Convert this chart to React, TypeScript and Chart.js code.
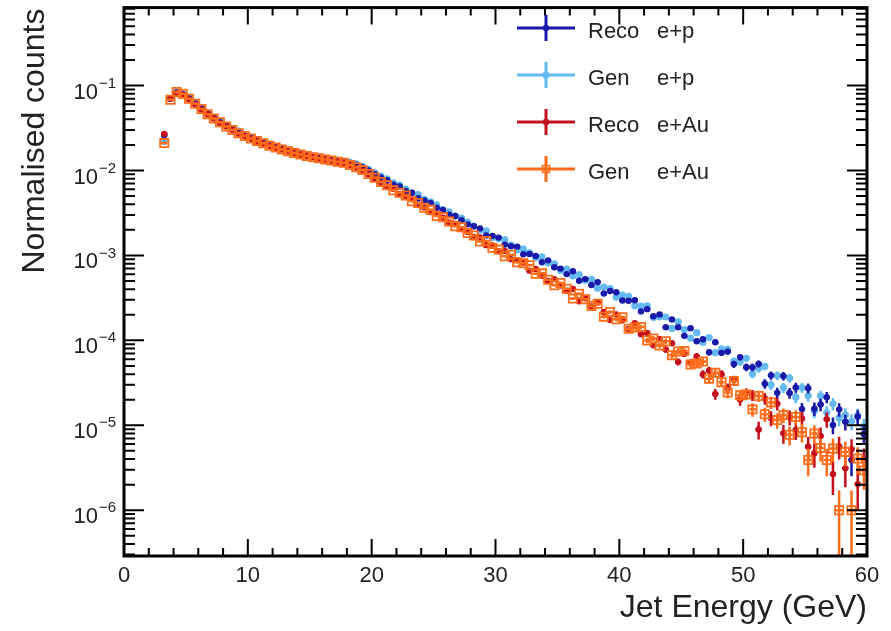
import React, { useEffect, useRef } from "react";
import { Chart, registerables } from "chart.js";

Chart.register(...registerables);

// ---- Binning (0.5 GeV bins from 3 to 60 GeV) ----
const BIN_LOW = 3.0;
const BIN_WIDTH = 0.5;
const N_BINS = 114;
const BIN_CENTERS: number[] = Array.from({ length: N_BINS }, (_, i) => BIN_LOW + BIN_WIDTH * (i + 0.5));

// ---- Axis ----
const X_MIN = 0;
const X_MAX = 60;
const X_TICKS = [0, 10, 20, 30, 40, 50, 60];
const X_MINOR_STEP = 2;
const Y_MIN = 2.89e-7;
const Y_MAX = 0.827;
const Y_EXPONENTS = [-6, -5, -4, -3, -2, -1];
const X_TITLE = "Jet Energy (GeV)";
const Y_TITLE = "Normalised counts";

// effective number of entries (Poisson errors)
const N_EFF = 2.0e6;

// ---- Series values ----
const RECO_EP = [
  0.026, 0.071, 0.083, 0.079, 0.071, 0.062, 0.054, 0.047, 0.042, 0.037,
  0.034, 0.031, 0.028, 0.026, 0.0243, 0.0227, 0.0213, 0.0201, 0.019, 0.0181,
  0.0172, 0.0165, 0.0158, 0.0152, 0.0147, 0.0142, 0.0138, 0.0134, 0.013, 0.0127,
  0.0123, 0.0117, 0.0109, 0.01, 0.0091, 0.0083, 0.00768, 0.00681, 0.00648, 0.00575,
  0.00547, 0.0047, 0.00444, 0.00414, 0.00364, 0.00342, 0.00301, 0.00291, 0.00259, 0.00232,
  0.0022, 0.00208, 0.00172, 0.0017, 0.00162, 0.00134, 0.00128, 0.00127, 0.00103, 0.00104,
  9.84e-4, 8.31e-4, 8.74e-4, 7.26e-4, 6.99e-4, 6.02e-4, 6.51e-4, 5.03e-4, 5.26e-4, 4.49e-4,
  4.85e-4, 3.56e-4, 3.81e-4, 3.69e-4, 2.94e-4, 2.92e-4, 2.96e-4, 2.19e-4, 2.33e-4, 1.92e-4,
  2.02e-4, 1.43e-4, 1.76e-4, 1.43e-4, 1.13e-4, 1.39e-4, 9.75e-5, 1.03e-4, 7.24e-5, 9.5e-5,
  7.12e-5, 7.37e-5, 5.25e-5, 6.35e-5, 4.83e-5, 4.82e-5, 5.29e-5, 3.08e-5, 3.87e-5, 2.41e-5,
  3.8e-5, 2.4e-5, 2.79e-5, 1.55e-5, 2.73e-5, 1.57e-5, 1.76e-5, 2.14e-5, 1.01e-5, 1.54e-5,
  1.1e-5, 3.9e-6, 1.26e-5, 7.9e-6,
];

const GEN_EP = [
  0.022, 0.07, 0.084, 0.08, 0.072, 0.062, 0.055, 0.048, 0.042, 0.038,
  0.034, 0.031, 0.029, 0.026, 0.0246, 0.0229, 0.0215, 0.0203, 0.0192, 0.0183,
  0.0174, 0.0167, 0.016, 0.0154, 0.0149, 0.0144, 0.014, 0.0136, 0.0132, 0.0129,
  0.0125, 0.012, 0.0112, 0.0103, 0.0094, 0.0086, 0.00798, 0.00716, 0.00673, 0.00604,
  0.00542, 0.00519, 0.00457, 0.00426, 0.00393, 0.00346, 0.00326, 0.00291, 0.00275, 0.00246,
  0.00222, 0.00198, 0.00195, 0.00162, 0.00157, 0.00153, 0.00132, 0.00116, 0.00119, 0.00107,
  9.37e-4, 9.63e-4, 8.17e-4, 7.93e-4, 6.64e-4, 6.91e-4, 5.74e-4, 5.96e-4, 5.11e-4, 5.24e-4,
  4.11e-4, 4.24e-4, 4.07e-4, 3.21e-4, 3.41e-4, 3.3e-4, 2.56e-4, 2.53e-4, 2.55e-4, 1.86e-4,
  1.89e-4, 1.88e-4, 1.38e-4, 1.65e-4, 1.34e-4, 1.06e-4, 1.23e-4, 9.49e-5, 1.08e-4, 7.16e-5,
  7.93e-5, 7.84e-5, 5.68e-5, 5.57e-5, 6.15e-5, 4.03e-5, 4.65e-5, 4.93e-5, 2.99e-5, 3.85e-5,
  2.77e-5, 3.6e-5, 2.14e-5, 2.78e-5, 2.22e-5, 1.48e-5, 2.22e-5, 1.41e-5, 1.79e-5, 1.22e-5,
  1.33e-5, 1.11e-5, 1.31e-5, 9.7e-6,
];

const RECO_EAU = [
  0.027, 0.07, 0.082, 0.078, 0.069, 0.06, 0.052, 0.046, 0.041, 0.036,
  0.033, 0.03, 0.027, 0.0253, 0.0236, 0.0221, 0.0207, 0.0195, 0.0185, 0.0176,
  0.0167, 0.016, 0.0153, 0.0147, 0.0143, 0.0138, 0.0134, 0.013, 0.0126, 0.0122,
  0.0115, 0.0108, 0.01, 0.009, 0.0081, 0.0072, 0.00651, 0.00609, 0.00526, 0.00497,
  0.0046, 0.00398, 0.00368, 0.00324, 0.00309, 0.00278, 0.00245, 0.00234, 0.00204, 0.00189,
  0.00165, 0.00163, 0.00132, 0.00131, 0.00112, 0.00113, 9.03e-4, 8.8e-4, 8.22e-4, 6.61e-4,
  6.91e-4, 5.74e-4, 5.0e-4, 5.26e-4, 4.43e-4, 3.82e-4, 4.04e-4, 2.89e-4, 3.13e-4, 2.51e-4,
  2.79e-4, 2.16e-4, 1.74e-4, 2.02e-4, 1.72e-4, 1.36e-4, 1.59e-4, 1.18e-4, 1.22e-4, 8.76e-5,
  1.04e-4, 7.79e-5, 9.23e-5, 5.58e-5, 6.97e-5, 5.46e-5, 6.47e-5, 3.99e-5, 4.42e-5, 2.34e-5,
  4.0e-5, 2.74e-5, 3.41e-5, 2.01e-5, 2.38e-5, 2.27e-5, 8.9e-6, 2.07e-5, 1.22e-5, 1.79e-5,
  8.05e-6, 1.24e-5, 8.79e-6, 1.2e-5, 5.59e-6, 4.7e-6, 7.5e-6, 1.18e-5, 2.66e-6, 5.64e-6,
  3.11e-6, 5.24e-6, 2.03e-6, 3.93e-6,
];

const GEN_EAU = [
  0.021, 0.068, 0.084, 0.08, 0.07, 0.061, 0.053, 0.046, 0.041, 0.037,
  0.033, 0.03, 0.0275, 0.0255, 0.0238, 0.0223, 0.0209, 0.0196, 0.0186, 0.0177,
  0.0168, 0.0161, 0.0154, 0.0148, 0.0143, 0.0139, 0.0135, 0.0131, 0.0127, 0.0123,
  0.0116, 0.0109, 0.0101, 0.0091, 0.0082, 0.0073, 0.00671, 0.00585, 0.00547, 0.00507,
  0.00434, 0.00414, 0.00364, 0.00344, 0.00291, 0.00281, 0.0025, 0.0022, 0.00214, 0.00183,
  0.00172, 0.00146, 0.00148, 0.00123, 0.00117, 9.77e-4, 1.02e-3, 8.28e-4, 8.06e-4, 7.68e-4,
  6.07e-4, 6.15e-4, 5.16e-4, 4.44e-4, 4.74e-4, 4.06e-4, 3.1e-4, 3.54e-4, 3.04e-4, 2.54e-4,
  2.7e-4, 1.9e-4, 2.16e-4, 1.77e-4, 1.87e-4, 1.37e-4, 1.42e-4, 1.44e-4, 9.94e-5, 1.05e-4,
  8.68e-5, 9.74e-5, 6.69e-5, 7.4e-5, 7.48e-5, 5.18e-5, 5.32e-5, 5.63e-5, 3.54e-5, 4.16e-5,
  3.22e-5, 2.43e-5, 3.33e-5, 2.25e-5, 2.31e-5, 1.54e-5, 2.21e-5, 1.35e-5, 1.86e-5, 1.15e-5,
  1.32e-5, 7.73e-6, 1.25e-5, 8.3e-6, 3.9e-6, 8.02e-6, 5.4e-6, 3.9e-6, 5.31e-6, 1.0e-6,
  4.86e-6, 1.0e-6, 4.07e-6, 2.95e-6,
];

const LEGEND_NAMES = ["Reco", "Gen", "Reco", "Gen"];
const LEGEND_BEAMS = ["e+p", "e+p", "e+Au", "e+Au"];

type Series = {
  values: number[];
  color: string;
  marker: "circle" | "rect";
  radius: number;
  filled: boolean;
  order: number;
};

const SERIES: Series[] = [
  { values: RECO_EP, color: "rgb(26,26,170)", marker: "circle", radius: 3.2, filled: true, order: 3 },
  { values: GEN_EP, color: "rgb(100,185,240)", marker: "circle", radius: 3.6, filled: true, order: 4 },
  { values: RECO_EAU, color: "rgb(195,15,30)", marker: "circle", radius: 3.2, filled: true, order: 2 },
  { values: GEN_EAU, color: "rgb(255,108,25)", marker: "rect", radius: 5.8, filled: false, order: 1 },
];

const FONT = '"Liberation Sans", Arial, Helvetica, sans-serif';
const TEXT_COLOR = "#222222";

const errorBarPlugin = {
  id: "errorBars",
  beforeDatasetDraw(chart: any, args: any) {
    const s = SERIES[args.index];
    if (!s) return;
    const { ctx, chartArea: a } = chart;
    const x = chart.scales.x;
    const y = chart.scales.y;
    ctx.save();
    ctx.beginPath();
    ctx.rect(a.left, a.top, a.right - a.left, a.bottom - a.top);
    ctx.clip();
    ctx.strokeStyle = s.color;
    ctx.lineWidth = 2.5;
    ctx.beginPath();
    BIN_CENTERS.forEach((c, i) => {
      const v = s.values[i];
      if (v == null || v <= 0) return;
      const err = Math.sqrt(v / N_EFF);
      const px = x.getPixelForValue(c);
      const py = y.getPixelForValue(v);
      const pyHi = y.getPixelForValue(v + err);
      const lo = v - err;
      const pyLo = lo > 0 ? y.getPixelForValue(lo) : a.bottom + 10;
      ctx.moveTo(px, pyHi);
      ctx.lineTo(px, pyLo);
      ctx.moveTo(x.getPixelForValue(c - BIN_WIDTH / 2), py);
      ctx.lineTo(x.getPixelForValue(c + BIN_WIDTH / 2), py);
    });
    ctx.stroke();
    ctx.restore();
  },
};

const axesPlugin = {
  id: "rootAxes",
  afterDraw(chart: any) {
    const { ctx, chartArea: a } = chart;
    const x = chart.scales.x;
    const y = chart.scales.y;
    ctx.save();
    ctx.strokeStyle = "#000";
    ctx.lineCap = "butt";

    // x ticks (bottom & top)
    ctx.lineWidth = 2;
    ctx.beginPath();
    for (let v = X_MIN; v <= X_MAX + 1e-9; v += X_MINOR_STEP) {
      const px = x.getPixelForValue(v);
      const major = X_TICKS.includes(Math.round(v));
      const len = major ? 17 : 8;
      ctx.moveTo(px, a.bottom);
      ctx.lineTo(px, a.bottom - len);
      ctx.moveTo(px, a.top);
      ctx.lineTo(px, a.top + len);
    }
    // y ticks (left & right)
    for (let e = -7; e <= 0; e++) {
      for (let k = 1; k <= 9; k++) {
        const v = k * Math.pow(10, e);
        if (v < Y_MIN || v > Y_MAX) continue;
        const py = y.getPixelForValue(v);
        const len = k === 1 ? 20 : 11;
        ctx.moveTo(a.left, py);
        ctx.lineTo(a.left + len, py);
        ctx.moveTo(a.right, py);
        ctx.lineTo(a.right - len, py);
      }
    }
    ctx.stroke();

    // frame
    ctx.lineWidth = 3;
    ctx.strokeRect(a.left, a.top, a.right - a.left, a.bottom - a.top);

    // x labels
    ctx.fillStyle = TEXT_COLOR;
    ctx.font = `22px ${FONT}`;
    ctx.textAlign = "center";
    ctx.textBaseline = "alphabetic";
    X_TICKS.forEach((t) => {
      ctx.fillText(String(t), x.getPixelForValue(t), a.bottom + 26);
    });

    // y labels 10^e
    Y_EXPONENTS.forEach((e) => {
      const py = y.getPixelForValue(Math.pow(10, e));
      const sup = "\u2212" + String(-e);
      ctx.font = `15px ${FONT}`;
      const wSup = ctx.measureText(sup).width;
      ctx.font = `22px ${FONT}`;
      const wBase = ctx.measureText("10").width;
      const right = a.left - 8;
      ctx.textAlign = "left";
      ctx.textBaseline = "middle";
      ctx.fillText("10", right - wSup - wBase - 1, py + 7);
      ctx.font = `15px ${FONT}`;
      ctx.fillText(sup, right - wSup, py - 2);
    });

    // axis titles
    ctx.font = `32px ${FONT}`;
    ctx.textAlign = "right";
    ctx.textBaseline = "alphabetic";
    ctx.fillText(X_TITLE, a.right, 617);

    ctx.save();
    ctx.translate(44, a.top + 1);
    ctx.rotate(-Math.PI / 2);
    ctx.textAlign = "right";
    ctx.fillText(Y_TITLE, 0, 0);
    ctx.restore();

    // legend
    SERIES.forEach((s, i) => {
      const ly = 28 + i * 47;
      ctx.strokeStyle = s.color;
      ctx.lineWidth = 3;
      ctx.beginPath();
      ctx.moveTo(517, ly);
      ctx.lineTo(575, ly);
      ctx.moveTo(546, ly - 13);
      ctx.lineTo(546, ly + 13);
      ctx.stroke();
      ctx.fillStyle = s.color;
      if (s.marker === "circle") {
        ctx.beginPath();
        ctx.arc(546, ly, s.radius, 0, Math.PI * 2);
        ctx.fill();
      } else {
        ctx.lineWidth = 1.5;
        ctx.strokeRect(546 - 3.5, ly - 3.5, 7, 7);
      }
      ctx.fillStyle = TEXT_COLOR;
      ctx.font = `22px ${FONT}`;
      ctx.textAlign = "left";
      ctx.textBaseline = "middle";
      ctx.fillText(LEGEND_NAMES[i], 588, ly + 4);
      ctx.fillText(LEGEND_BEAMS[i], 657, ly + 4);
    });

    ctx.restore();
  },
};

export default function App() {
  const ref = useRef<HTMLCanvasElement>(null);
  useEffect(() => {
    const canvas = ref.current;
    if (!canvas) return;
    const chart = new Chart(canvas, {
      type: "scatter",
      data: {
        datasets: SERIES.map((s, i) => ({
          label: `${LEGEND_NAMES[i]} ${LEGEND_BEAMS[i]}`,
          data: BIN_CENTERS.map((c, j) => ({ x: c, y: s.values[j] })),
          pointStyle: s.marker,
          pointRadius: s.radius,
          backgroundColor: s.filled ? s.color : "rgba(0,0,0,0)",
          borderColor: s.color,
          borderWidth: s.filled ? 0 : 1.8,
          order: s.order,
        })),
      },
      options: {
        responsive: false,
        animation: false,
        devicePixelRatio: 1,
        events: [],
        layout: { padding: { left: 124, right: 24, top: 5, bottom: 75 } },
        plugins: { legend: { display: false }, tooltip: { enabled: false } },
        scales: {
          x: { type: "linear", min: X_MIN, max: X_MAX, display: false },
          y: { type: "logarithmic", min: Y_MIN, max: Y_MAX, display: false },
        },
      },
      plugins: [errorBarPlugin, axesPlugin],
    } as any);
    return () => chart.destroy();
  }, []);
  return (
    <canvas
      ref={ref}
      width={891}
      height={631}
      style={{ position: "fixed", left: 0, top: 0, width: 891, height: 631, background: "#fff" }}
    />
  );
}
